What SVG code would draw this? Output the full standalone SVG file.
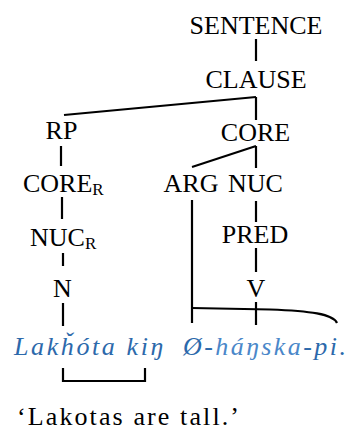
<svg xmlns="http://www.w3.org/2000/svg" width="348" height="432" viewBox="0 0 348 432">
  <style>
    text { font-family: Liberation Serif, Times New Roman, Times, serif; }
    .lbl { font-size: 26px; fill: #000; }
    .sub { font-size: 17px; }
    .ex { font-size: 26px; font-style: italic; fill: #2c69ab; }
    .ex2 { fill: #4a87c9; }
    .tr { font-size: 26px; fill: #000; }
    .edge { stroke: #000; stroke-width: 2.2; fill: none; stroke-linecap: butt; }
  </style>
  <rect width="348" height="432" fill="#fff"/>

  <!-- tree branches -->
  <g id="connectors">
    <path class="edge" d="M256,39 V61"/>
    <path class="edge" d="M256,97 L64,115"/>
    <path class="edge" d="M256,97 V120"/>
    <path class="edge" d="M61,146 V166"/>
    <path class="edge" d="M256,146 L192,167"/>
    <path class="edge" d="M256,146 V168"/>
    <path class="edge" d="M62,197 V219"/>
    <path class="edge" d="M256,201 V222"/>
    <path class="edge" d="M192,200 V323"/>
    <path class="edge" d="M63,253 V266"/>
    <path class="edge" d="M256,248 V272"/>
    <path class="edge" d="M63,303 V326"/>
    <path class="edge" d="M256,302 V325"/>
    <path class="edge" d="M192,308 L270,309.5 C310,311 333,314 337,323"/>
    <path class="edge" d="M63,368 V381 H145 V368"/>
  </g>

  <g id="sentence"><text class="lbl" x="256" y="34" text-anchor="middle">SENTENCE</text></g>
  <g id="clause"><text class="lbl" x="256" y="88" text-anchor="middle">CLAUSE</text></g>
  <g id="rp"><text class="lbl" x="61.5" y="139" text-anchor="middle">RP</text></g>
  <g id="core"><text class="lbl" x="255.5" y="141" text-anchor="middle">CORE</text></g>
  <g id="core-r"><text class="lbl" x="23" y="192">CORE<tspan class="sub" dy="3">R</tspan></text></g>
  <g id="arg"><text class="lbl" x="191" y="192" text-anchor="middle">ARG</text></g>
  <g id="nuc"><text class="lbl" x="255.5" y="192" text-anchor="middle">NUC</text></g>
  <g id="nuc-r"><text class="lbl" x="30" y="246">NUC<tspan class="sub" dy="3">R</tspan></text></g>
  <g id="pred"><text class="lbl" x="255" y="243" text-anchor="middle">PRED</text></g>
  <g id="n"><text class="lbl" x="62.5" y="297" text-anchor="middle">N</text></g>
  <g id="v"><text class="lbl" x="256" y="297" text-anchor="middle">V</text></g>

  <g id="example">
    <text class="ex" x="14" y="355" textLength="149" lengthAdjust="spacing">Lakȟóta kiŋ</text>
    <text class="ex" x="183" y="355" textLength="163" lengthAdjust="spacing">Ø-<tspan class="ex2">háŋska</tspan>-pi.</text>
  </g>
  <g id="translation">
    <text class="tr" x="17" y="425" textLength="222" lengthAdjust="spacing">‘Lakotas are tall.’</text>
  </g>
</svg>
